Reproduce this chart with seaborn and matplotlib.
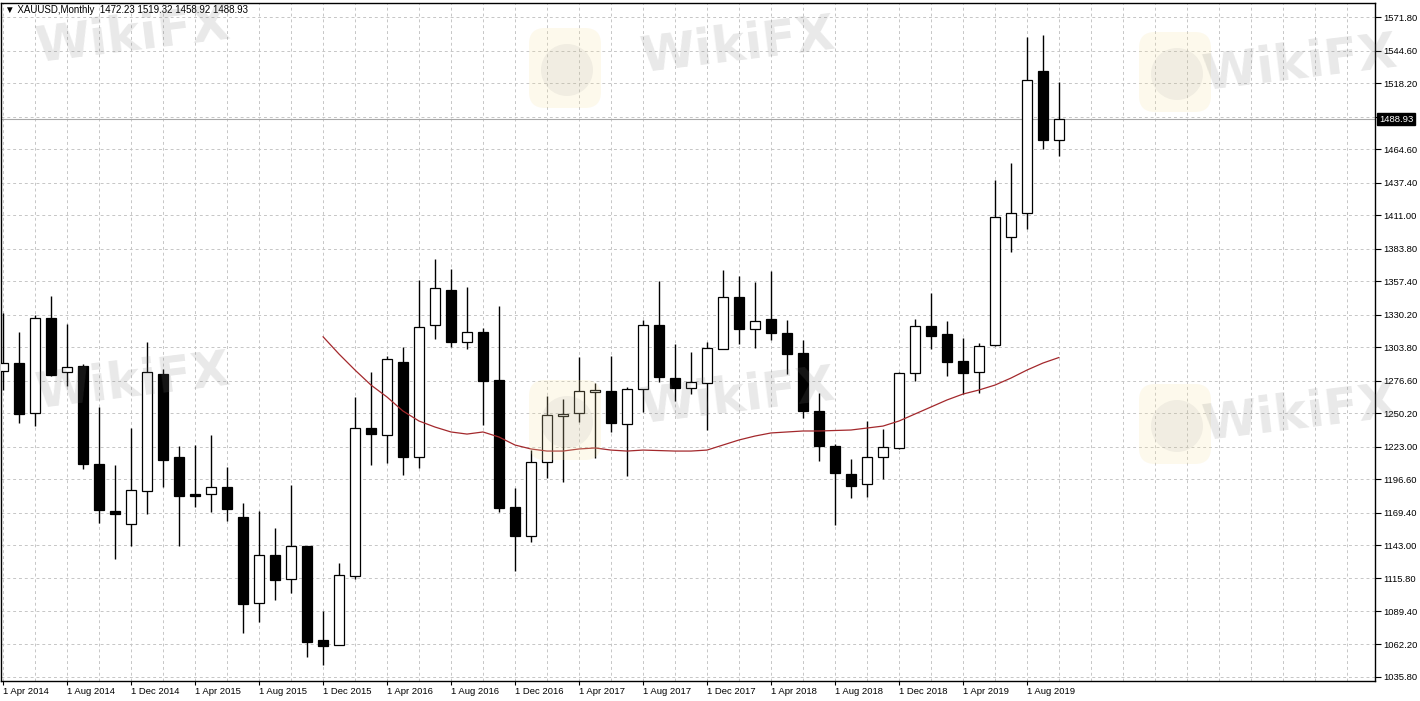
import numpy as np
import pandas as pd
import matplotlib
matplotlib.use("Agg")
import matplotlib.pyplot as plt
from matplotlib import transforms
from matplotlib.patches import FancyBboxPatch, Circle
import seaborn as sns

# XAUUSD monthly candles, Apr 2014 .. Oct 2019
opens = [1284.5, 1290.6, 1250.0, 1327.1, 1283.3, 1288.4, 1208.8, 1170.6, 1159.8, 1186.9,
         1281.9, 1214.5, 1184.4, 1184.2, 1189.9, 1165.7, 1095.7, 1134.6, 1115.1, 1142.4,
         1065.9, 1061.8, 1117.8, 1237.8, 1232.3, 1291.4, 1214.7, 1321.4, 1350.1, 1308.1,
         1316.0, 1277.0, 1173.9, 1150.3, 1210.2, 1247.8, 1250.0, 1267.0, 1268.1, 1241.0,
         1269.4, 1321.7, 1278.9, 1270.3, 1274.3, 1302.2, 1344.6, 1318.2, 1326.3, 1314.9,
         1298.7, 1251.8, 1223.4, 1200.4, 1192.3, 1214.2, 1221.5, 1282.4, 1320.9, 1314.1,
         1292.4, 1283.3, 1305.6, 1392.9, 1412.4, 1527.9, 1472.23]
highs = [1331.2, 1316.2, 1329.8, 1345.2, 1322.2, 1289.7, 1255.3, 1208.0, 1237.8, 1307.6,
         1285.9, 1223.6, 1224.2, 1232.3, 1206.3, 1176.9, 1170.6, 1157.0, 1191.7, 1142.4,
         1089.6, 1128.1, 1263.4, 1283.3, 1296.5, 1303.8, 1358.2, 1375.3, 1367.1, 1352.8,
         1319.5, 1337.3, 1189.0, 1220.1, 1264.2, 1261.6, 1295.9, 1274.3, 1296.5, 1271.6,
         1325.7, 1357.4, 1306.0, 1299.5, 1307.9, 1366.3, 1361.5, 1356.3, 1365.5, 1325.7,
         1309.5, 1266.2, 1224.8, 1212.8, 1243.7, 1237.2, 1283.3, 1326.5, 1347.4, 1324.9,
         1310.9, 1307.0, 1439.4, 1453.0, 1555.8, 1557.2, 1519.32]
lows = [1268.9, 1241.8, 1239.9, 1280.2, 1272.1, 1204.5, 1161.1, 1131.4, 1142.4, 1167.9,
        1190.3, 1142.4, 1174.1, 1170.0, 1162.7, 1071.8, 1080.7, 1098.3, 1104.3, 1052.3,
        1045.5, 1061.8, 1115.4, 1208.0, 1209.4, 1199.8, 1205.8, 1310.3, 1304.0, 1302.2,
        1240.5, 1170.0, 1122.1, 1145.7, 1197.2, 1194.4, 1243.1, 1213.9, 1235.0, 1199.3,
        1251.3, 1275.6, 1259.9, 1265.4, 1236.2, 1302.2, 1306.2, 1302.7, 1309.5, 1281.6,
        1245.9, 1211.5, 1159.2, 1180.9, 1182.2, 1196.4, 1220.7, 1276.4, 1301.9, 1280.5,
        1265.6, 1266.2, 1304.6, 1381.2, 1399.6, 1464.4, 1458.92]
closes = [1291.0, 1249.1, 1327.1, 1281.1, 1287.3, 1208.5, 1171.4, 1167.9, 1187.4, 1283.3,
          1212.0, 1183.0, 1183.0, 1189.9, 1172.5, 1095.3, 1134.6, 1114.6, 1142.2, 1064.5,
          1061.2, 1118.6, 1238.4, 1232.9, 1293.8, 1214.7, 1320.3, 1351.5, 1308.1, 1315.7,
          1276.4, 1172.8, 1150.6, 1210.2, 1248.6, 1249.4, 1268.1, 1268.9, 1241.8, 1269.7,
          1321.7, 1279.2, 1270.7, 1275.1, 1302.7, 1344.6, 1318.2, 1324.9, 1314.9, 1297.9,
          1252.1, 1223.6, 1201.2, 1191.2, 1214.2, 1222.3, 1282.4, 1321.1, 1313.0, 1291.9,
          1283.1, 1305.0, 1409.6, 1412.4, 1520.6, 1472.2, 1488.93]

# moving average, starts at Dec 2015 (candle 20)
ma_start = 20
ma = [1312.2, 1298.1, 1285.1, 1272.9, 1263.2, 1251.8, 1243.7, 1238.8, 1234.8, 1233.1,
      1234.8, 1230.7, 1224.2, 1221.0, 1219.3, 1219.3, 1221.0, 1221.8, 1220.1, 1219.3,
      1220.1, 1219.7, 1219.3, 1219.3, 1220.1, 1224.2, 1228.3, 1231.5, 1234.0, 1234.8,
      1235.6, 1235.6, 1236.0, 1236.4, 1238.0, 1239.6, 1243.7, 1249.4, 1255.1, 1260.8,
      1265.6, 1268.9, 1272.9, 1278.6, 1285.1, 1290.8, 1295.3]

price_ticks = [1035.80, 1062.20, 1089.40, 1115.80, 1143.00, 1169.40, 1196.60, 1223.00,
               1250.20, 1276.60, 1303.80, 1330.20, 1357.40, 1383.80, 1411.00, 1437.40,
               1464.60, 1491.00, 1518.20, 1544.60, 1571.80]
last_price = 1488.93
header = "\u25bc XAUUSD,Monthly  1472.23 1519.32 1458.92 1488.93"

months = pd.date_range("2014-04-01", periods=len(opens), freq="MS")
df = pd.DataFrame({"open": opens, "high": highs, "low": lows, "close": closes})
df["idx"] = np.arange(len(df))
df["bull"] = df["close"] >= df["open"]

sns.set_style("white")
plt.rcParams["font.family"] = ["Liberation Sans", "DejaVu Sans"]

W, H = 1420, 701
fig = plt.figure(figsize=(W / 100, H / 100), dpi=100)
fig.patch.set_facecolor("white")
ax = fig.add_axes([1 / W, 20 / H, 1374 / W, 678 / H])

px_per_month = 16.0
ax.set_xlim((1 - 3) / px_per_month, (1375 - 3) / px_per_month)
ax.set_ylim(1032.55, 1583.2)

# grid
grid_kw = dict(color="#c6c6c6", linewidth=0.7, linestyle=(0, (3, 3)))
ax.set_xticks(np.arange(0, 86, 2), minor=True)
ax.set_xticks(np.arange(0, len(df), 4))
ax.set_xticklabels([f"{d.day} {d:%b %Y}" for d in months[::4]])
ax.set_yticks(price_ticks)
ax.set_yticklabels(["" if abs(t - 1491.0) < 0.01 else f"{t:.2f}" for t in price_ticks])
ax.grid(True, which="both", axis="x", **grid_kw)
ax.grid(True, which="major", axis="y", **grid_kw)
ax.set_axisbelow(True)

# last price line
ax.axhline(last_price, color="#a8a8a8", linewidth=0.8, zorder=1)

# candles
ax.vlines(df["idx"], df["low"], df["high"], color="black", linewidth=1.0, zorder=2)
body_lo = df[["open", "close"]].min(axis=1)
body_h = (df["close"] - df["open"]).abs()
ax.bar(df["idx"], body_h, bottom=body_lo, width=0.64,
       color=np.where(df["bull"], "white", "black"), edgecolor="black",
       linewidth=0.9, zorder=3)

sns.lineplot(x=df["idx"][ma_start:], y=ma, ax=ax, color="#a3282c",
             linewidth=0.9, zorder=4)
ax.set_xlabel("")
ax.set_ylabel("")

for s in ax.spines.values():
    s.set_visible(True)
    s.set_color("black")
    s.set_linewidth(1.0)

ax.yaxis.tick_right()
ax.tick_params(axis="y", which="major", right=True, left=False, length=4, width=0.8,
               pad=2, labelsize=6.8, colors="black")
ax.tick_params(axis="x", which="major", bottom=True, length=3, width=0.8, pad=1.5,
               labelsize=6.8, colors="black")
ax.tick_params(axis="x", which="minor", length=0)
for lbl in ax.get_xticklabels():
    lbl.set_ha("left")

# price tag on the axis
tr = transforms.blended_transform_factory(ax.transAxes, ax.transData)
ax.text(1 + 4 / 1374, last_price, f"{last_price:.2f}", transform=tr, ha="left",
        va="center", color="white", fontsize=6.8, clip_on=False, zorder=6,
        bbox=dict(boxstyle="square,pad=0.18", fc="black", ec="black"))

fig.text(5 / W, 1 - 10 / H, header, fontsize=7, color="black", va="center",
         ha="left")

# watermark
for cx, cy in [(565, 68), (1175, 72), (565, 420), (1175, 424)]:
    fig.add_artist(FancyBboxPatch((cx - 36, H - cy - 40), 72, 80,
                                  boxstyle="round,pad=0,rounding_size=16",
                                  fc="#f6e3a2", ec="none", alpha=0.2,
                                  transform=None))
    fig.add_artist(Circle((cx + 2, H - cy - 2), 26, fc="#8a8a8a", ec="none",
                          alpha=0.10, transform=None))
for cx, cy in [(133, 36), (738, 46), (1300, 64), (133, 382), (738, 397), (1300, 414)]:
    fig.text(cx / W, 1 - cy / H, "WikiFX", fontsize=36, fontweight="bold",
             family="DejaVu Sans", color="#7a7a7a", alpha=0.17, rotation=7,
             ha="center", va="center")

fig.savefig("out.png", dpi=100)
